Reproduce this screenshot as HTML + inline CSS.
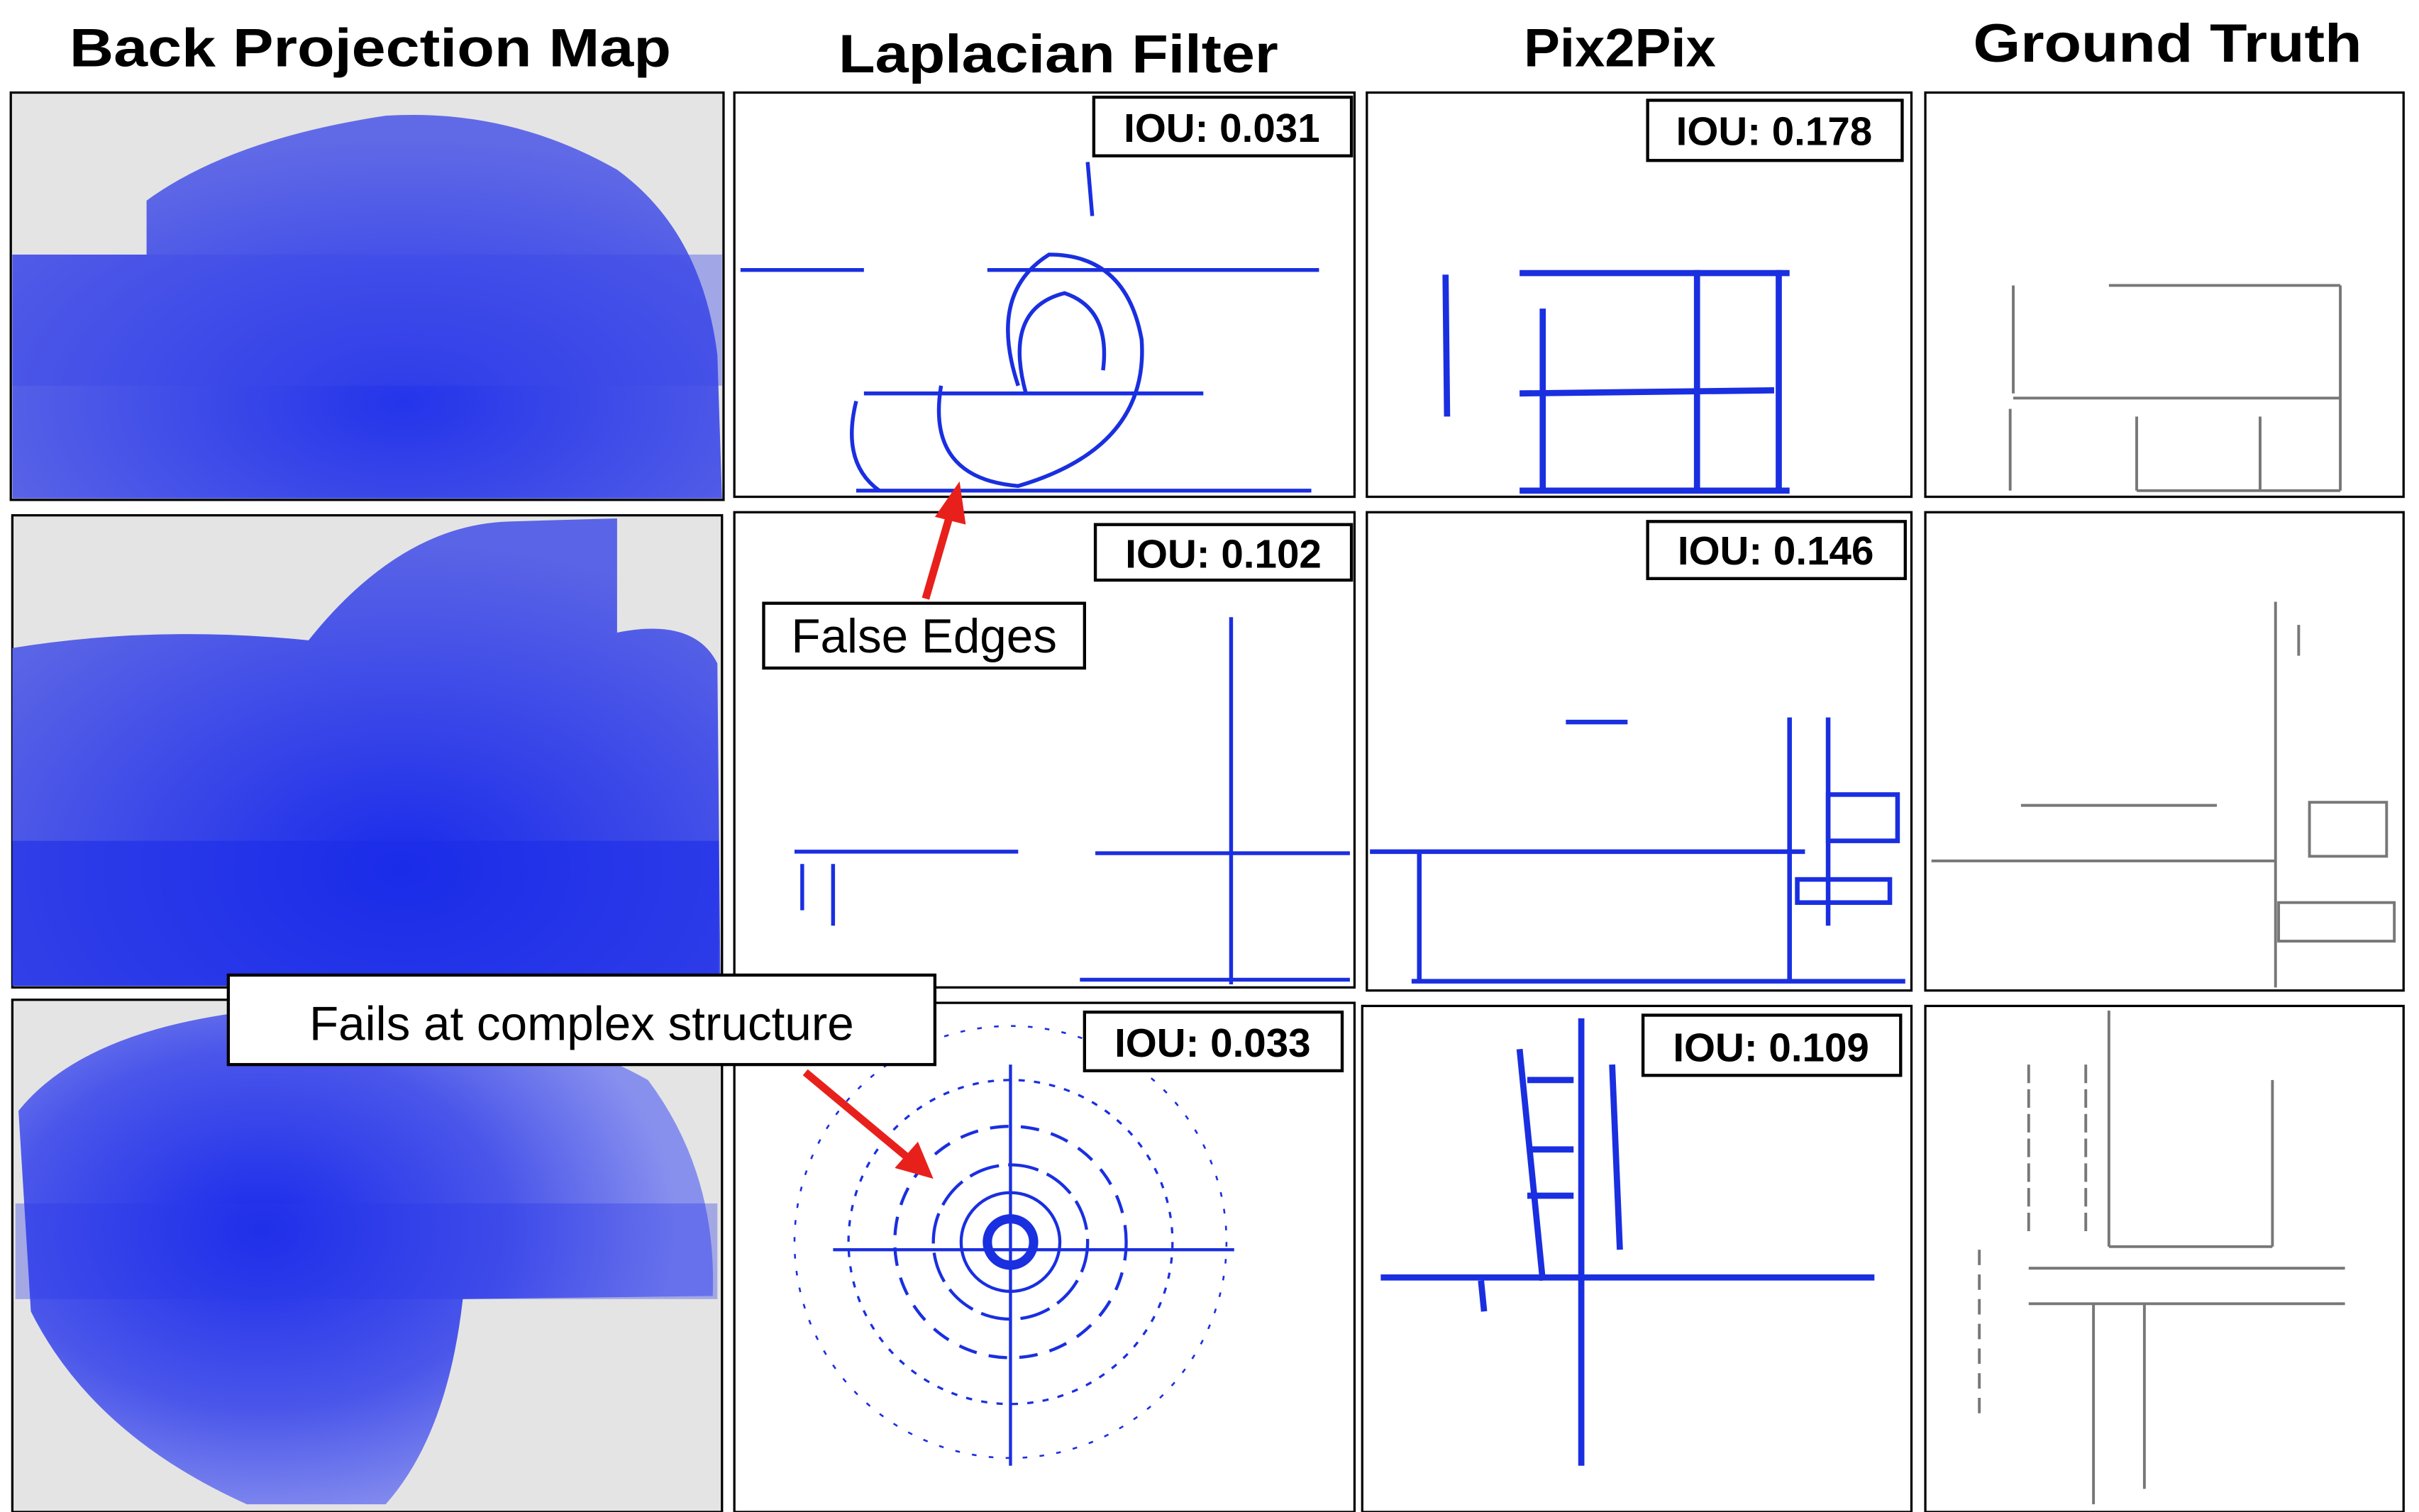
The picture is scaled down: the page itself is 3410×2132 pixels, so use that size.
<!DOCTYPE html>
<html><head><meta charset="utf-8"><style>
html,body{margin:0;padding:0;background:#fff;}
svg{display:block;}
text{font-family:"Liberation Sans",sans-serif;}
</style></head><body>
<svg width="3410" height="2132" viewBox="0 0 1568 980" preserveAspectRatio="none" xmlns="http://www.w3.org/2000/svg">
<defs>
<radialGradient id="bp1" cx="0.55" cy="0.75" r="0.7"><stop offset="0" stop-color="#1a2bea"/><stop offset="1" stop-color="#5a64e6"/></radialGradient>
<radialGradient id="bp3" cx="0.35" cy="0.45" r="0.6"><stop offset="0" stop-color="#1a2bea"/><stop offset="0.6" stop-color="#4a56ea"/><stop offset="1" stop-color="#8890ee"/></radialGradient>
</defs>
<rect width="1568" height="980" fill="#fff"/>
<g font-weight="bold" font-size="35" text-anchor="middle" fill="#000">
<text x="240" y="43" textLength="390" lengthAdjust="spacingAndGlyphs">Back Projection Map</text>
<text x="686" y="47" textLength="285" lengthAdjust="spacingAndGlyphs">Laplacian Filter</text>
<text x="1050" y="43">Pix2Pix</text>
<text x="1405" y="40" textLength="252" lengthAdjust="spacingAndGlyphs">Ground Truth</text>
</g>
<g stroke="#000" stroke-width="1.5">
<rect x="7" y="60" width="462" height="264" fill="#e4e4e4"/>
<rect x="8" y="334" width="460" height="306" fill="#e4e4e4"/>
<rect x="8" y="648" width="460" height="332" fill="#e4e4e4"/>
</g>
<path d="M95 130 Q150 90 250 75 Q330 70 400 110 Q455 150 465 230 L468 323 L8 323 L8 165 L95 165 Z" fill="url(#bp1)" opacity="0.95"/>
<rect x="8" y="165" width="460" height="85" fill="#3b48e8" opacity="0.4"/>
<path d="M8 420 Q100 405 200 415 Q260 340 330 338 L400 336 L400 410 Q450 400 465 430 L467 639 L8 639 Z" fill="url(#bp1)"/>
<rect x="8" y="545" width="458" height="94" fill="#1d2de8" opacity="0.6"/>
<path d="M12 720 Q60 660 200 652 Q330 650 420 700 Q465 760 462 840 L300 842 Q290 930 250 975 L160 975 Q60 930 20 850 Z" fill="url(#bp3)"/>
<rect x="10" y="780" width="455" height="62" fill="#2b3ae8" opacity="0.35"/>
<g fill="#fff" stroke="#000" stroke-width="1.5">
<rect x="476" y="60" width="402" height="262"/>
<rect x="476" y="332" width="402" height="308"/>
<rect x="476" y="650" width="402" height="330"/>
<rect x="886" y="60" width="353" height="262"/>
<rect x="886" y="332" width="353" height="310"/>
<rect x="883" y="652" width="356" height="328"/>
<rect x="1248" y="60" width="310" height="262"/>
<rect x="1248" y="332" width="310" height="310"/>
<rect x="1248" y="652" width="310" height="328"/>
</g>
<g stroke="#1a2fe0" fill="none" stroke-width="2.5">
<line x1="480" y1="175" x2="560" y2="175"/>
<line x1="640" y1="175" x2="855" y2="175"/>
<line x1="560" y1="255" x2="780" y2="255"/>
<path d="M660 250 Q640 190 680 165 Q730 165 740 220 Q745 290 660 315 Q600 310 610 250"/>
<path d="M665 255 Q650 200 690 190 Q720 200 715 240"/>
<path d="M555 260 Q545 300 570 318"/>
<line x1="705" y1="105" x2="708" y2="140"/>
<line x1="555" y1="318" x2="850" y2="318"/>
</g>
<g stroke="#1a2fe0" fill="none" stroke-width="2.5">
<line x1="515" y1="552" x2="660" y2="552"/>
<line x1="710" y1="553" x2="875" y2="553"/>
<line x1="798" y1="400" x2="798" y2="638"/>
<line x1="520" y1="560" x2="520" y2="590"/>
<line x1="540" y1="560" x2="540" y2="600"/>
<line x1="700" y1="635" x2="875" y2="635"/>
</g>
<g stroke="#1a2fe0" fill="none" stroke-width="2">
<circle cx="655" cy="805" r="15" stroke-width="6"/>
<circle cx="655" cy="805" r="32"/>
<circle cx="655" cy="805" r="50" stroke-dasharray="20 6"/>
<circle cx="655" cy="805" r="75" stroke-dasharray="12 8"/>
<circle cx="655" cy="805" r="105" stroke-dasharray="4 6" stroke-width="1.5"/>
<circle cx="655" cy="805" r="140" stroke-dasharray="3 8" stroke-width="1.2"/>
<line x1="655" y1="690" x2="655" y2="950"/>
<line x1="540" y1="810" x2="800" y2="810"/>
</g>
<g stroke="#1a2fe0" fill="none" stroke-width="4">
<line x1="937" y1="178" x2="938" y2="270"/>
<line x1="985" y1="177" x2="1160" y2="177"/>
<line x1="985" y1="255" x2="1150" y2="253"/>
<line x1="1000" y1="200" x2="1000" y2="318"/>
<line x1="1100" y1="175" x2="1100" y2="318"/>
<line x1="1153" y1="175" x2="1153" y2="318"/>
<line x1="985" y1="318" x2="1160" y2="318"/>
</g>
<g stroke="#1a2fe0" fill="none" stroke-width="3">
<line x1="888" y1="552" x2="1170" y2="552"/>
<line x1="920" y1="552" x2="920" y2="636"/>
<line x1="915" y1="636" x2="1235" y2="636"/>
<line x1="1160" y1="465" x2="1160" y2="636"/>
<line x1="1185" y1="465" x2="1185" y2="600"/>
<rect x="1185" y="515" width="45" height="30"/>
<rect x="1165" y="570" width="60" height="15"/>
<line x1="1015" y1="468" x2="1055" y2="468"/>
</g>
<g stroke="#1a2fe0" fill="none" stroke-width="4">
<line x1="895" y1="828" x2="1215" y2="828"/>
<line x1="1025" y1="660" x2="1025" y2="950"/>
<line x1="985" y1="680" x2="1000" y2="830"/>
<line x1="1045" y1="690" x2="1050" y2="810"/>
<line x1="990" y1="700" x2="1020" y2="700"/>
<line x1="990" y1="745" x2="1020" y2="745"/>
<line x1="990" y1="775" x2="1020" y2="775"/>
<line x1="960" y1="830" x2="962" y2="850"/>
</g>
<g stroke="#777" fill="none" stroke-width="1.8">
<line x1="1367" y1="185" x2="1517" y2="185"/>
<line x1="1517" y1="185" x2="1517" y2="318"/>
<line x1="1305" y1="185" x2="1305" y2="255"/>
<line x1="1305" y1="258" x2="1517" y2="258"/>
<line x1="1303" y1="265" x2="1303" y2="318"/>
<line x1="1385" y1="270" x2="1385" y2="318"/>
<line x1="1465" y1="270" x2="1465" y2="318"/>
<line x1="1385" y1="318" x2="1517" y2="318"/>
<line x1="1310" y1="522" x2="1437" y2="522"/>
<line x1="1252" y1="558" x2="1475" y2="558"/>
<line x1="1475" y1="390" x2="1475" y2="640"/>
<rect x="1497" y="520" width="50" height="35"/>
<rect x="1477" y="585" width="75" height="25"/>
<line x1="1490" y1="405" x2="1490" y2="425"/>
<line x1="1367" y1="655" x2="1367" y2="808"/>
<line x1="1367" y1="808" x2="1473" y2="808"/>
<line x1="1473" y1="700" x2="1473" y2="808"/>
<line x1="1315" y1="822" x2="1520" y2="822"/>
<line x1="1315" y1="845" x2="1520" y2="845"/>
<line x1="1357" y1="845" x2="1357" y2="975"/>
<line x1="1390" y1="845" x2="1390" y2="965"/>
<line x1="1315" y1="690" x2="1315" y2="800" stroke-dasharray="12 4"/>
<line x1="1352" y1="690" x2="1352" y2="800" stroke-dasharray="12 4"/>
<line x1="1283" y1="810" x2="1283" y2="920" stroke-dasharray="10 6"/>
</g>
<g fill="#fff" stroke="#000" stroke-width="2">
<rect x="709" y="63" width="167" height="38"/>
<rect x="1068" y="65" width="165" height="39"/>
<rect x="710" y="340" width="166" height="36"/>
<rect x="1068" y="338" width="167" height="37"/>
<rect x="703" y="656" width="167" height="38"/>
<rect x="1065" y="658" width="167" height="39"/>
</g>
<g font-weight="bold" font-size="26" text-anchor="middle" fill="#000">
<text x="792" y="92">IOU: 0.031</text>
<text x="1150" y="94">IOU: 0.178</text>
<text x="793" y="368">IOU: 0.102</text>
<text x="1151" y="366">IOU: 0.146</text>
<text x="786" y="685">IOU: 0.033</text>
<text x="1148" y="688">IOU: 0.109</text>
</g>
<rect x="495" y="391" width="208" height="42" fill="#fff" stroke="#000" stroke-width="2"/>
<text x="599" y="423" font-size="31" text-anchor="middle">False Edges</text>
<rect x="148" y="632" width="458" height="58" fill="#fff" stroke="#000" stroke-width="2"/>
<text x="377" y="674" font-size="31" text-anchor="middle">Fails at complex structure</text>
<g stroke="#e8201c" stroke-width="5" fill="#e8201c">
<line x1="600" y1="388" x2="616" y2="333"/>
<polygon points="622,312 606,335 626,340" stroke="none"/>
<line x1="522" y1="695" x2="588" y2="750"/>
<polygon points="605,764 580,757 595,740" stroke="none"/>
</g>
</svg>
</body></html>
